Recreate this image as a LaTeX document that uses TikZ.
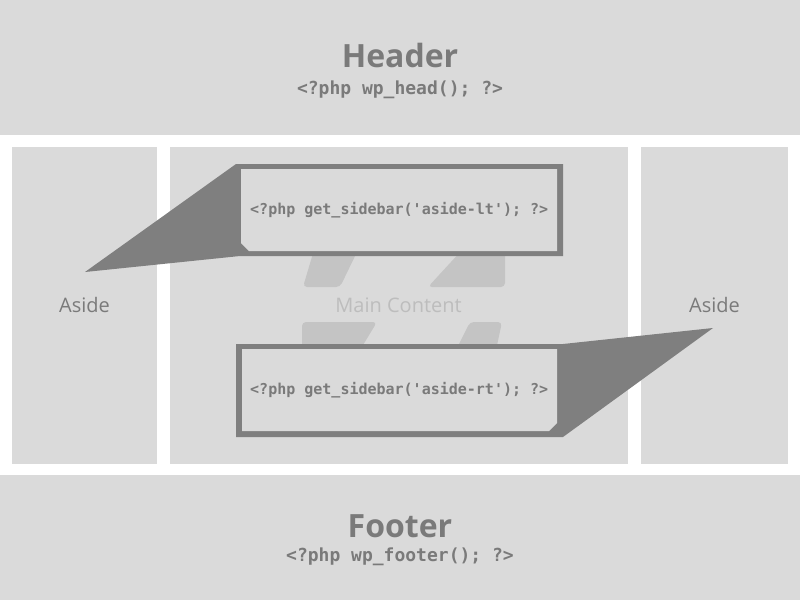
\documentclass[tikz,border=0pt]{standalone}
\usepackage{fontspec}
\setmainfont{Open Sans}
\setmonofont{DejaVu Sans Mono}
\definecolor{bandgray}{HTML}{DADADA}
\definecolor{darkgray}{HTML}{7F7F7F}
\definecolor{txtgray}{HTML}{7A7A7A}
\definecolor{faint}{HTML}{C4C4C4}
\definecolor{faintxt}{HTML}{BDBDBD}
\begin{document}
\begin{tikzpicture}[x=1pt,y=-1pt,
  panel/.style={fill=bandgray, draw=none, inner sep=0pt, anchor=north west},
  title/.style={text=txtgray, font=\bfseries\fontsize{32}{32}\selectfont, anchor=base, inner sep=0pt},
  hcode/.style={text=txtgray, font=\ttfamily\bfseries\fontsize{18}{18}\selectfont, anchor=base, inner sep=0pt},
  label/.style={text=txtgray, font=\fontsize{20}{20}\selectfont, anchor=base, inner sep=0pt},
  mlabel/.style={text=faintxt, font=\fontsize{20}{20}\selectfont, anchor=base, inner sep=0pt},
  ccode/.style={text=txtgray, font=\ttfamily\bfseries\fontsize{15}{15}\selectfont, anchor=west, inner sep=0pt},
  callout/.style={fill=darkgray, draw=none},
  calloutin/.style={fill=bandgray, draw=none},
  ghost/.style={fill=faint, draw=none, rounded corners=4pt}
]
\useasboundingbox (0,0) rectangle (800,600);
\fill[white] (0,0) rectangle (800,600);
% panels
\node[panel, minimum width=800pt, minimum height=135pt] (header) at (0,0) {};
\node[panel, minimum width=145pt, minimum height=317pt] (asidel) at (12,147) {};
\node[panel, minimum width=458pt, minimum height=317pt] (main) at (170,147) {};
\node[panel, minimum width=147pt, minimum height=317pt] (asider) at (641,147) {};
\node[panel, minimum width=800pt, minimum height=125pt] (footer) at (0,475) {};
% header / footer text
\node[title] (htitle) at (400,67) {Header};
\node[hcode] (hcode) at (400,94) {<?php wp\_head(); ?>};
\node[title] (ftitle) at (400,537) {Footer};
\node[hcode] (fcode) at (400,561) {<?php wp\_footer(); ?>};
% aside labels
\node[label] (altxt) at (84.5,312) {Aside};
\node[label] (artxt) at (714.5,312) {Aside};
% faint background glyph
\fill[ghost] (314,250) -- (358,250) -- (340,287) -- (303,287) -- cycle;
\fill[ghost] (462,250) -- (505,250) -- (505,287) -- (428,287) -- cycle;
\fill[ghost] (302,322) -- (377,322) -- (360,350) -- (302,350) -- cycle;
\fill[ghost] (470,322) -- (502,322) -- (496,350) -- (456,350) -- cycle;
\node[mlabel] (maintxt) at (398.5,312) {Main Content};
% top callout
\coordinate (tipl) at (85,272);
\fill[callout] (236,164) -- (563,164) -- (563,256) -- (240,256) -- (tipl) -- cycle;
\fill[calloutin] (241,169) -- (557,169) -- (557,251) -- (249,251) -- (241,243) -- cycle;
\node[ccode] (ctop) at (250,210) {<?php get\_sidebar('aside-lt'); ?>};
% bottom callout
\coordinate (tipr) at (713,328);
\fill[callout] (236,344) -- (563,344) -- (tipr) -- (563,437) -- (236,437) -- cycle;
\fill[calloutin] (242,349) -- (557,349) -- (557,423) -- (549,431) -- (242,431) -- cycle;
\node[ccode] (cbot) at (250,390) {<?php get\_sidebar('aside-rt'); ?>};
\end{tikzpicture}
\end{document}
